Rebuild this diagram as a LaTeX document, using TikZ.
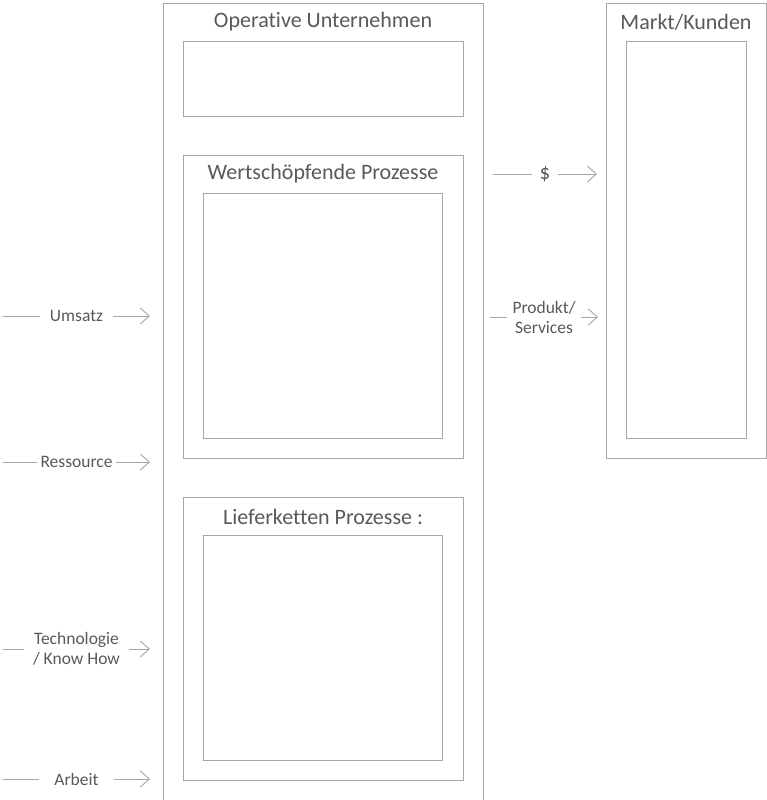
\documentclass[tikz,border=0pt]{standalone}
\usepackage{fontspec}
\setmainfont{Carlito}[Ligatures={NoCommon}]
\usetikzlibrary{arrows.meta}
\definecolor{framegray}{HTML}{A6A6A6}
\definecolor{textgray}{HTML}{595959}
\begin{document}
\begin{tikzpicture}[x=1pt, y=-1pt,
  box/.style={draw=framegray, line width=1pt, rectangle, inner sep=0pt, anchor=north west},
  heading/.style={text=textgray, font=\fontsize{22}{26}\selectfont, inner sep=0pt},
  flowlabel/.style={text=textgray, font=\fontsize{17.5}{20}\selectfont, fill=white,
    inner xsep=10pt, inner ysep=1pt, align=center},
  flow/.style={draw=framegray, line width=0.9pt, -{Straight Barb[length=9pt,width=16pt]}}]
\useasboundingbox (0,0) rectangle (767,800);
\clip (0,0) rectangle (767,800);

% operative company: open at the bottom, cut by the page edge
\node[box, minimum width=320pt, minimum height=830pt] (ops) at (163,3) {};
\node[heading] (opsT) at (323,22) {Operative Unternehmen};
\node[box, minimum width=280pt, minimum height=75pt] (opsTop) at (183,41) {};

% value-creating processes
\node[box, minimum width=280pt, minimum height=303pt] (wert) at (183,155) {};
\node[heading] (wertT) at (323,174) {Wertschöpfende Prozesse};
\node[box, minimum width=239pt, minimum height=245pt] (wertIn) at (203,193) {};

% supply chain processes
\node[box, minimum width=280pt, minimum height=283pt] (lief) at (183,497) {};
\node[heading] (liefT) at (323,517) {Lieferketten Prozesse :};
\node[box, minimum width=239pt, minimum height=225pt] (liefIn) at (203,535) {};

% market / customers
\node[box, minimum width=160pt, minimum height=455pt] (markt) at (606,3) {};
\node[heading] (marktT) at (686,22) {Markt/Kunden};
\node[box, minimum width=120pt, minimum height=397pt] (marktIn) at (626,41) {};

% incoming flows
\coordinate (uS) at (3,316);   \coordinate (uE) at (150,316);
\coordinate (rS) at (3,462);   \coordinate (rE) at (150,462);
\coordinate (tS) at (3,649);   \coordinate (tE) at (150,649);
\coordinate (aS) at (3,779);   \coordinate (aE) at (150,779);
\draw[flow] (uS) -- node[flowlabel] (umsatz) {Umsatz} (uE);
\draw[flow] (rS) -- node[flowlabel, inner xsep=4pt] (ress) {Ressource} (rE);
\draw[flow] (tS) -- node[flowlabel, inner xsep=9pt] (tech) {Technologie\\/ Know How} (tE);
\draw[flow] (aS) -- node[flowlabel, inner xsep=15pt] (arbeit) {Arbeit} (aE);

% outgoing flows
\coordinate (dS) at (493,174); \coordinate (dE) at (597,174);
\coordinate (pS) at (490,317); \coordinate (pE) at (598,317);
\draw[flow] (dS) -- node[flowlabel, inner xsep=8pt, font=\fontsize{21}{24}\selectfont] (dollar) {\$} (dE);
\draw[flow] (pS) -- node[flowlabel, inner xsep=6pt] (prod) {Produkt/\\Services} (pE);
\end{tikzpicture}
\end{document}
